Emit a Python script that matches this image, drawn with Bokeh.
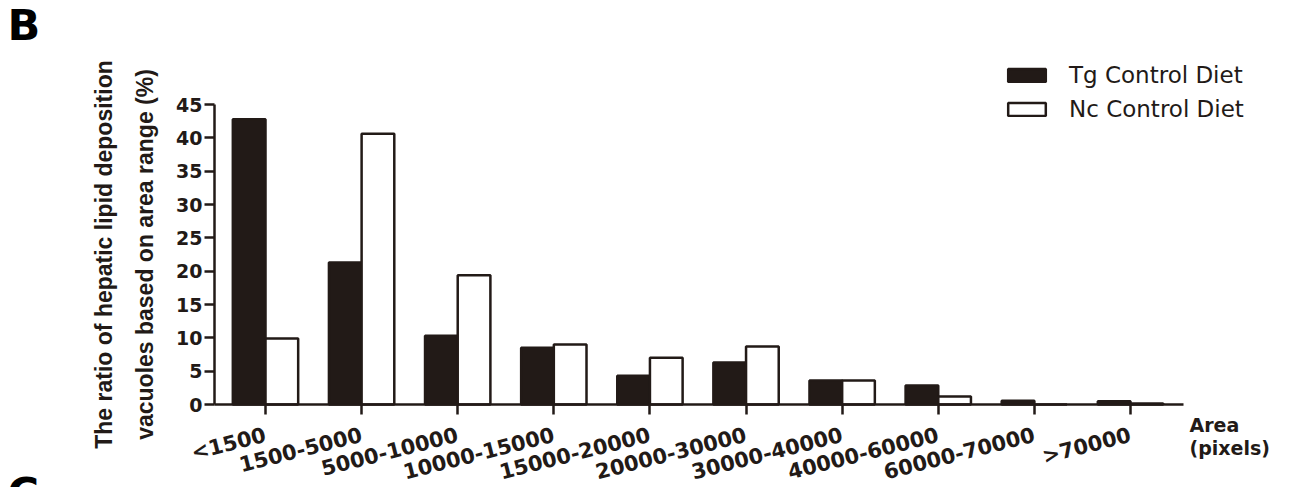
import math
from bokeh.plotting import figure
from bokeh.models import (Range1d, FixedTicker, Label, ColumnDataSource,
                          Legend, LegendItem)
from bokeh.transform import dodge
from bokeh.embed import file_html
from bokeh.resources import INLINE

# ---------------- data ----------------
categories = ["<1500", "1500-5000", "5000-10000", "10000-15000", "15000-20000",
              "20000-30000", "30000-40000", "40000-60000", "60000-70000", ">70000"]
tg_values = [42.8, 21.3, 10.3, 8.5, 4.3, 6.3, 3.6, 2.85, 0.55, 0.5]
nc_values = [9.9, 40.6, 19.4, 9.0, 7.0, 8.7, 3.6, 1.2, 0.0, 0.15]
y_ticks = [0, 5, 10, 15, 20, 25, 30, 35, 40, 45]
series_names = ["Tg Control Diet", "Nc Control Diet"]
y_title_lines = ["The ratio of hepatic lipid deposition",
                 "vacuoles based on area range (%)"]
x_title_lines = ["Area", "(pixels)"]
panel_letter = "B"
next_panel_letter = "C"

# ---------------- style / layout ----------------
INK = "#221a17"
W, H = 1297, 487
# canvas-pixel helpers used only to place axes / annotations
X0_PX, PX_PER_X = 265.0, 96.11       # first category centre, category pitch
Y0_PX, PX_PER_Y = 404.0, 300.0 / 45.0  # y=0 line, px per %
AXIS_LEFT_PX, AXIS_RIGHT_PX = 214, 1183


def data_x(px):
    return (px - X0_PX) / PX_PER_X


def data_y(py):
    return (Y0_PX - py) / PX_PER_Y


p = figure(width=W, height=H, output_backend="svg", toolbar_location=None,
           x_range=Range1d(data_x(0), data_x(W)),
           y_range=Range1d(data_y(H), data_y(0)),
           min_border=0, background_fill_color="white",
           border_fill_color="white")
p.title.visible = False
p.outline_line_color = None
p.xgrid.visible = False
p.ygrid.visible = False

idx = list(range(len(categories)))
src = ColumnDataSource(dict(x=idx, cat=categories, tg=tg_values, nc=nc_values))

BAR_W = 0.34
r_tg = p.vbar(x=dodge("x", -BAR_W / 2, range=p.x_range), top="tg", width=BAR_W,
              source=src, fill_color=INK, line_color=INK, line_width=2.5)
r_nc = p.vbar(x=dodge("x", BAR_W / 2, range=p.x_range), top="nc", width=BAR_W,
              source=src, fill_color="white", line_color=INK, line_width=2.5)

# axes drawn at fixed locations inside the full-canvas frame
for ax in (p.xaxis, p.yaxis):
    ax.axis_line_color = INK
    ax.axis_line_width = 2.5
    ax.major_tick_line_color = INK
    ax.major_tick_line_width = 2.5
    ax.major_tick_out = 10
    ax.major_tick_in = 0
    ax.minor_tick_line_color = None

xa = p.xaxis[0]
xa.fixed_location = y_ticks[0]
xa.bounds = (data_x(AXIS_LEFT_PX), data_x(AXIS_RIGHT_PX))
xa.ticker = FixedTicker(ticks=idx)
xa.major_label_overrides = {i: c for i, c in zip(idx, categories)}
xa.major_label_orientation = 0.25
xa.major_label_standoff = 20
xa.major_label_text_font = "DejaVu Sans"
xa.major_label_text_font_style = "bold"
xa.major_label_text_font_size = "21px"
xa.major_label_text_color = INK

ya = p.yaxis[0]
ya.fixed_location = data_x(AXIS_LEFT_PX)
ya.bounds = (y_ticks[0], y_ticks[-1])
ya.ticker = FixedTicker(ticks=y_ticks)
ya.major_label_text_font = "DejaVu Sans"
ya.major_label_text_font_style = "bold"
ya.major_label_text_font_size = "19px"
ya.major_label_text_color = INK
ya.major_label_standoff = 2

# y axis title (two lines, rotated)
for line, base_px in zip(y_title_lines, [103, 144]):
    p.add_layout(Label(x=data_x(base_px), y=data_y(254), text=line,
                       angle=math.pi / 2, text_align="center",
                       text_baseline="alphabetic", text_font="Liberation Sans",
                       text_font_style="bold",
                       text_font_size="23px", text_color=INK))

# x axis title
for line, base_py in zip(x_title_lines, [424, 447]):
    p.add_layout(Label(x=data_x(1189), y=data_y(base_py), text=line,
                       text_align="left", text_baseline="alphabetic",
                       text_font="DejaVu Sans", text_font_style="bold",
                       text_font_size="19px", text_color=INK))

# panel letters (the next panel's letter is cut by the bottom edge, as in the source)
p.add_layout(Label(x=data_x(7), y=data_y(24), text=panel_letter,
                   text_align="left", text_baseline="alphabetic",
                   text_font="DejaVu Sans", text_font_style="bold",
                   text_font_size="43px", text_color="black"))
p.add_layout(Label(x=data_x(7), y=data_y(492), text=next_panel_letter,
                   text_align="left", text_baseline="alphabetic",
                   text_font="DejaVu Sans", text_font_style="bold",
                   text_font_size="43px", text_color="black"))

legend = Legend(items=[LegendItem(label=series_names[0], renderers=[r_tg]),
                       LegendItem(label=series_names[1], renderers=[r_nc])],
                location=(1003, 365), glyph_width=47, glyph_height=16,
                label_standoff=19, spacing=8, padding=0, margin=0,
                border_line_color=None, background_fill_alpha=0,
                label_text_font="DejaVu Sans", label_text_font_size="23px",
                label_text_color=INK)
p.add_layout(legend)

open("out.html", "w").write(file_html(p, INLINE))
